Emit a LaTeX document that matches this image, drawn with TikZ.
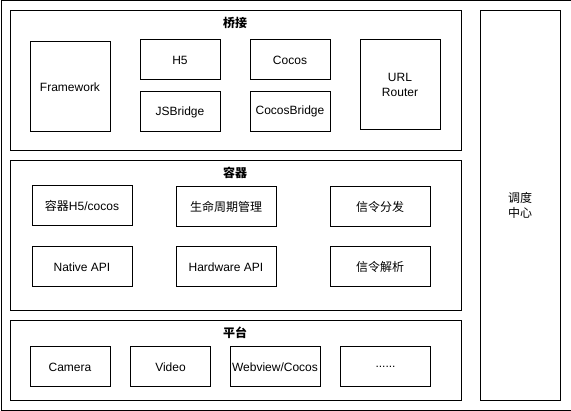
\documentclass[tikz,border=0pt]{standalone}
\usepackage{fontspec}
\setmainfont{Liberation Sans}
\newfontfamily\cjk{Noto Sans CJK SC}
\begin{document}
\begin{tikzpicture}[x=1pt,y=-1pt,
  box/.style={draw=black, line width=1pt, fill=white, inner sep=0pt, align=center,
    font=\fontsize{12}{15}\selectfont},
  panel/.style={draw=black, line width=1pt, inner sep=0pt},
  ptitle/.style={font=\cjk\bfseries\fontsize{12}{15}\selectfont, inner sep=0pt}]
\useasboundingbox (0,0) rectangle (571,411);
\node[panel, minimum width=570pt, minimum height=410pt, anchor=north west] (outer) at (0.5,0.5) {};
% panels
\node[panel, minimum width=450.5pt, minimum height=140pt, anchor=north west] (bridge) at (10,10) {};
\node[panel, minimum width=450.5pt, minimum height=150pt, anchor=north west] (container) at (10,160) {};
\node[panel, minimum width=450.5pt, minimum height=80pt, anchor=north west] (platform) at (10,320) {};
\node[box, minimum width=80pt, minimum height=390pt, anchor=north west] (sched) at (480,10) {};
\node[font=\cjk\fontsize{12}{15}\selectfont, align=center, inner sep=0pt] (schedlabel) at (520,205) {调度\\中心};
% titles
\node[ptitle] (t1) at (235,23) {桥接};
\node[ptitle] (t2) at (235,173) {容器};
\node[ptitle] (t3) at (235,333) {平台};
% bridge
\node[box, minimum width=80pt, minimum height=90pt] (fw) at (70,87) {Framework};
\node[box, minimum width=80pt, minimum height=40pt] (h5) at (180,60) {H5};
\node[box, minimum width=80pt, minimum height=40pt] (jsb) at (180,112) {JSBridge};
\node[box, minimum width=80pt, minimum height=40pt] (cocos) at (290,60) {Cocos};
\node[box, minimum width=80pt, minimum height=40pt] (cb) at (290,111.5) {CocosBridge};
\node[box, minimum width=80pt, minimum height=90pt] (url) at (400,85) {URL\\Router};
% container
\node[box, minimum width=100pt, minimum height=40pt] (c1) at (82,206) {{\cjk 容器}H5/cocos};
\node[box, minimum width=100pt, minimum height=40pt] (c2) at (226,207) {\cjk 生命周期管理};
\node[box, minimum width=100pt, minimum height=40pt] (c3) at (380,207) {\cjk 信令分发};
\node[box, minimum width=100pt, minimum height=40pt] (c4) at (82,267) {Native API};
\node[box, minimum width=100pt, minimum height=40pt] (c5) at (226,267) {Hardware API};
\node[box, minimum width=100pt, minimum height=40pt] (c6) at (380,267) {\cjk 信令解析};
% platform
\node[box, minimum width=80pt, minimum height=40pt] (p1) at (70,367) {Camera};
\node[box, minimum width=80pt, minimum height=40pt] (p2) at (170.5,367) {Video};
\node[box, minimum width=90pt, minimum height=40pt] (p3) at (275,367) {Webview/Cocos};
\node[box, minimum width=90pt, minimum height=40pt] (p4) at (385.5,367) {......};
\end{tikzpicture}
\end{document}
